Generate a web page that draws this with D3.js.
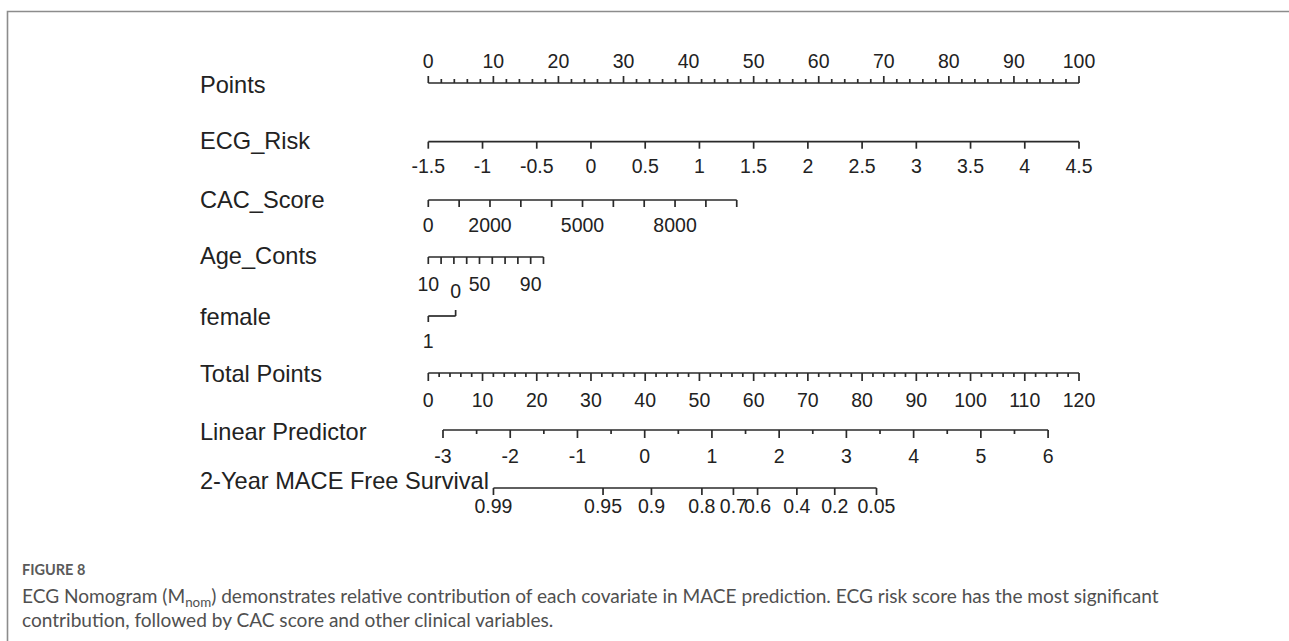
<!DOCTYPE html>
<html><head><meta charset="utf-8">
<script src="https://cdn.jsdelivr.net/npm/d3@7"></script>
<style>html,body{margin:0;padding:0;background:#fff;} svg{display:block;}</style>
</head><body><svg id="c" width="1289" height="641"></svg>
<script>
// ---------- data ----------
const rowLabels = ["Points","ECG_Risk","CAC_Score","Age_Conts","female","Total Points","Linear Predictor","2-Year MACE Free Survival"];
const pointsLabels = [0,10,20,30,40,50,60,70,80,90,100];
const ecgTicks = [-1.5,-1,-0.5,0,0.5,1,1.5,2,2.5,3,3.5,4,4.5];
const ecgRangeValues = [-1.5,4.5];
const ecgRangePoints = [0,100];
const cacTicks = [0,1000,2000,3000,4000,5000,6000,7000,8000,9000,10000];
const cacLabels = [0,2000,5000,8000];
const cacRangeValues = [0,10000];
const cacRangePoints = [0,47.4];
const ageTicks = [10,20,30,40,50,60,70,80,90,100];
const ageLabels = [10,50,90];
const ageRangeValues = [10,100];
const ageRangePoints = [0,17.7];
const femaleLevels = ["1","0"];
const femalePoints = [0,4.2];
const totalLabels = [0,10,20,30,40,50,60,70,80,90,100,110,120];
const lpLabels = [-3,-2,-1,0,1,2,3,4,5,6];
const lpRangeValues = [-3,6];
const lpRangeTotal = [2.71,114.3];
const survTicks = [0.99,0.95,0.9,0.8,0.7,0.6,0.4,0.2,0.05];
const baseHazard = 0.0953;

// ---------- layout ----------
const svg = d3.select("#c");
const X0 = 428.3, X1 = 1079;
const ptsX = d3.scaleLinear().domain([0,100]).range([X0,X1]);
const totX = d3.scaleLinear().domain([0,120]).range([X0,X1]);
const ecgX = d3.scaleLinear().domain(ecgRangeValues).range(ecgRangePoints.map(ptsX));
const cacX = d3.scaleLinear().domain(cacRangeValues).range(cacRangePoints.map(ptsX));
const ageX = d3.scaleLinear().domain(ageRangeValues).range(ageRangePoints.map(ptsX));
const femX = d3.scaleOrdinal().domain(femaleLevels).range(femalePoints.map(ptsX));
const lpX = d3.scaleLinear().domain(lpRangeValues).range(lpRangeTotal.map(totX));
const survX = s => lpX(Math.log(-Math.log(s) / baseHazard));

const INK = "#222", AX = "#2a2a2a", SW = 1.7;
const labFont = "'Liberation Sans', Arial, sans-serif";

// frame
svg.append("rect").attr("width",1289).attr("height",641).attr("fill","#fff");
svg.append("path").attr("d","M7.5,641 V11.5 H1289").attr("fill","none").attr("stroke","#8c8c8c").attr("stroke-width",1.6);

const g = svg.append("g");
function hline(x0,x1,y){ g.append("line").attr("x1",x0).attr("x2",x1).attr("y1",y).attr("y2",y).attr("stroke",AX).attr("stroke-width",SW); }
function tick(x,y,len){ g.append("line").attr("x1",x).attr("x2",x).attr("y1",y).attr("y2",y+len).attr("stroke",AX).attr("stroke-width",SW); }
function tlab(x,y,t){ g.append("text").attr("x",x).attr("y",y).attr("text-anchor","middle")
  .attr("font-family",labFont).attr("font-size",19.5).attr("fill",INK).text(t); }
const fmt = v => String(v);

// row labels
const rowBase = [93,149,208,264,325,382,440,489];
rowLabels.forEach((t,i)=>{
  g.append("text").attr("x",200).attr("y",rowBase[i]).attr("font-family",labFont)
   .attr("font-size",23.6).attr("fill",INK).text(t);
});

// Points
{ const y=83; hline(ptsX(0),ptsX(100),y);
  d3.range(0,101,2).forEach(v=>tick(ptsX(v),y, v%10===0?-7:-4));
  pointsLabels.forEach(v=>tlab(ptsX(v),68,fmt(v))); }
// ECG
{ const y=141.7; hline(ecgX(ecgTicks[0]),ecgX(ecgTicks[ecgTicks.length-1]),y);
  ecgTicks.forEach(v=>{tick(ecgX(v),y,7); tlab(ecgX(v),173,fmt(v));}); }
// CAC
{ const y=200; hline(cacX(cacTicks[0]),cacX(cacTicks[cacTicks.length-1]),y);
  cacTicks.forEach(v=>tick(cacX(v),y,7));
  cacLabels.forEach(v=>tlab(cacX(v),232,fmt(v))); }
// Age
{ const y=257; hline(ageX(ageTicks[0]),ageX(ageTicks[ageTicks.length-1]),y);
  ageTicks.forEach(v=>tick(ageX(v),y,7));
  ageLabels.forEach(v=>tlab(ageX(v),291,fmt(v))); }
// female
{ const y=316; hline(femX("1"),femX("0"),y);
  tick(femX("1"),y,6); tick(femX("0"),y,-6);
  tlab(femX("1"),348,"1"); tlab(femX("0"),298,"0"); }
// Total Points
{ const y=373; hline(totX(0),totX(120),y);
  d3.range(0,121,2).forEach(v=>tick(totX(v),y, v%10===0?8:4));
  totalLabels.forEach(v=>tlab(totX(v),407,fmt(v))); }
// Linear predictor
{ const y=430; hline(lpX(-3),lpX(6),y);
  d3.range(-3,6.01,0.5).forEach(v=>tick(lpX(v),y, Number.isInteger(v)?8:4));
  lpLabels.forEach(v=>tlab(lpX(v),463,fmt(v))); }
// Survival
{ const y=488; hline(survX(survTicks[0]),survX(survTicks[survTicks.length-1]),y);
  survTicks.forEach(v=>{tick(survX(v),y,7); tlab(survX(v),513,fmt(v));}); }

// ---------- caption ----------
const capFont = "Lato, 'Open Sans', sans-serif";
svg.append("text").attr("x",22).attr("y",575).attr("font-family",capFont).attr("font-weight",700)
  .attr("font-size",14.5).attr("fill","#5a5a5a").text("FIGURE 8");
const l1 = svg.append("text").attr("x",22).attr("y",603).attr("font-family",capFont)
  .attr("font-size",17).attr("fill","#505050");
l1.append("tspan").text("ECG Nomogram (M");
l1.append("tspan").attr("font-size",12).attr("dy",4).text("nom");
l1.append("tspan").attr("dy",-4).text(") demonstrates relative contribution of each covariate in MACE prediction. ECG risk score has the most significant");
const l2 = svg.append("text").attr("x",22).attr("y",627).attr("font-family",capFont)
  .attr("font-size",17).attr("fill","#505050")
  .text("contribution, followed by CAC score and other clinical variables.");
// fit caption width to the reference line length
const w1 = l1.node().getComputedTextLength();
const f = 17 * (1160 - 22) / w1;
l1.attr("font-size",f); l1.select("tspan:nth-child(2)").attr("font-size",f*0.7);
l2.attr("font-size",f);
</script></body></html>
